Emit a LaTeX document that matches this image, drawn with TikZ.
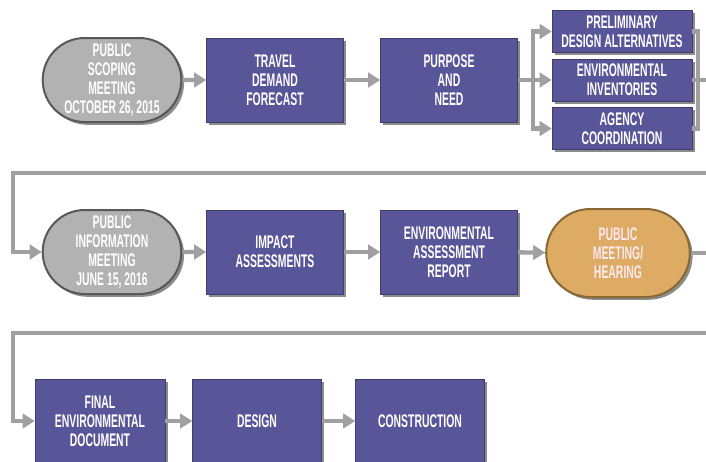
\documentclass[tikz,border=0pt]{standalone}
\usepackage{fontspec}
\setmainfont[FakeStretch=0.57]{Liberation Sans}
\usetikzlibrary{arrows.meta}
\usetikzlibrary{positioning}
\usetikzlibrary{shapes.misc}
\usetikzlibrary{shadows}
\definecolor{boxpurple}{RGB}{88,86,152}
\definecolor{boxedge}{RGB}{62,60,112}
\definecolor{meetgray}{RGB}{178,178,178}
\definecolor{meetedge}{RGB}{88,88,88}
\definecolor{hearorange}{RGB}{221,171,99}
\definecolor{hearedge}{RGB}{138,104,52}
\definecolor{heartext}{RGB}{252,232,240}
\definecolor{flowgray}{RGB}{160,160,160}

\begin{document}
\begin{tikzpicture}[
				x=0.25mm, y=-0.25mm,
				node distance=1.5mm,
				every node/.style={font=\bfseries\fontsize{13}{13.4}\selectfont, align=center},
				line/.style={flowgray, line width=1.1mm},
				arrow/.style={line, -{Triangle[length=3mm, width=3.6mm]}},
				shade/.style={drop shadow={shadow xshift=0.7mm, shadow yshift=-0.7mm, opacity=0.45, fill=black}},
				block/.style={draw=boxedge, fill=boxpurple, text=white, inner sep=0.8mm, minimum width=34.25mm, minimum height=21mm, shade},
				small block/.style={block, inner sep=0.3mm, minimum width=35mm, minimum height=10.5mm},
				meeting/.style={rounded rectangle, draw=meetedge, line width=0.5mm, fill=meetgray, text=white, inner sep=0.8mm, minimum width=36.25mm, minimum height=21mm, shade},
				hearing/.style={meeting, draw=hearedge, fill=hearorange, text=heartext, minimum width=37.5mm, minimum height=22mm},
			]
				\useasboundingbox (0,0) rectangle (706,461);
				\clip (0,0) rectangle (706,461);
				\fill[white] (0,0) rectangle (706,461);

				\node[meeting] (scoping) at (112,80) {PUBLIC\\SCOPING\\MEETING\\OCTOBER 26, 2015};
				\node[block] (travel) at (275,80) {TRAVEL\\DEMAND\\FORECAST};
				\node[block] (purpose) at (449,80) {PURPOSE\\AND\\NEED};
				\node[small block] (inventories) at (622,80) {ENVIRONMENTAL\\INVENTORIES};
				\node[small block, above=of inventories] (prelim) {PRELIMINARY\\DESIGN ALTERNATIVES};
				\node[small block, below=of inventories] (agency) {AGENCY\\COORDINATION};

				\node[meeting] (info) at (112,252) {PUBLIC\\INFORMATION\\MEETING\\JUNE 15, 2016};
				\node[block] (impact) at (275,252) {IMPACT\\ASSESSMENTS};
				\node[block] (report) at (449,252) {ENVIRONMENTAL\\ASSESSMENT\\REPORT};
				\node[hearing] (hearing) at (618,253) {PUBLIC\\MEETING/\\HEARING};

				\node[block, minimum width=32.5mm] (final) at (100,421) {FINAL\\ENVIRONMENTAL\\DOCUMENT};
				\node[block, minimum width=32.25mm] (design) at (257,421) {DESIGN};
				\node[block, minimum width=32.25mm] (construction) at (420,421) {CONSTRUCTION};

				\coordinate (split) at (533,80);
				\coordinate (join) at (698,80);
				\coordinate (turn one) at (730,80);
				\coordinate (back one) at (13,173);
				\coordinate (turn two) at (730,253);
				\coordinate (back two) at (13,333);

				\draw[arrow] (scoping) -- (travel);
				\draw[arrow] (travel) -- (purpose);
				\draw[line] (purpose) -- (split);
				\draw[line, line cap=rect] (split |- prelim.west) -- (split |- agency.west);
				\draw[arrow] (split |- prelim.west) -- (prelim.west);
				\draw[arrow] (split) -- (inventories.west);
				\draw[arrow] (split |- agency.west) -- (agency.west);
				\draw[line] (prelim.east) -| (join) |- (agency.east);
				\draw[arrow] (inventories.east) -- (turn one) |- (back one) |- (info.west);

				\draw[arrow] (info) -- (impact);
				\draw[arrow] (impact) -- (report);
				\draw[arrow] (report) -- (hearing);
				\draw[arrow] (hearing.east) -- (turn two) |- (back two) |- (final.west);

				\draw[arrow] (final) -- (design);
				\draw[arrow] (design) -- (construction);
			\end{tikzpicture}
\end{document}
